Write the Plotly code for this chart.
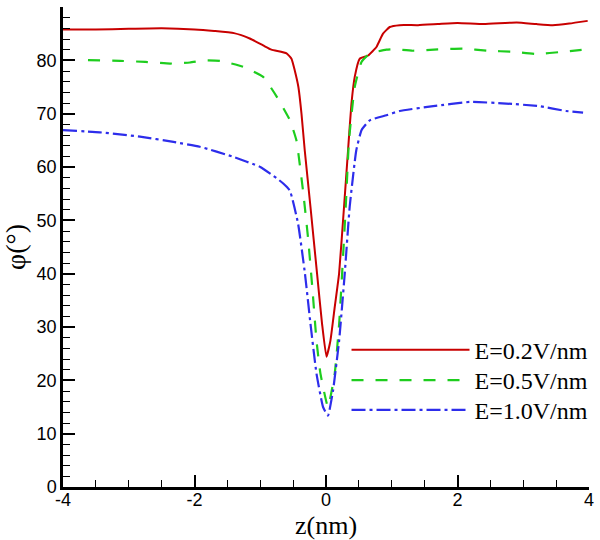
import plotly.graph_objects as go

# ---- data ----
red_x = [-4.0, -3.5, -3.0, -2.5, -2.0, -1.7, -1.4, -1.16, -0.956, -0.83, -0.6, -0.525,
         -0.475, -0.42, -0.373, -0.323, -0.236, -0.136, -0.06, 0.007, 0.068, 0.133, 0.199,
         0.274, 0.335, 0.387, 0.437, 0.513, 0.64, 0.767, 0.867, 0.97, 1.12, 1.4, 1.7, 2.0,
         2.4, 2.9, 3.2, 3.45, 3.7, 3.98]
red_y = [85.8, 85.8, 85.9, 86.0, 85.8, 85.5, 85.1, 84.1, 82.8, 82.0, 81.3, 80.3,
         78.1, 75.0, 70.0, 63.1, 52.5, 40.0, 30.6, 24.4, 27.5, 33.75, 40.0,
         52.5, 63.1, 71.9, 76.9, 80.3, 80.9, 82.5, 85.0, 86.25, 86.6, 86.6, 86.8, 87.0,
         86.8, 87.1, 86.8, 86.6, 86.9, 87.4]

green_x = [-3.62, -3.13, -2.75, -2.37, -2.07, -1.85, -1.61, -1.26, -0.956, -0.75, -0.55,
           -0.45, -0.35, -0.27, -0.205, -0.145, -0.085, 0.03, 0.133, 0.2, 0.245, 0.30,
           0.35, 0.437, 0.54, 0.665, 0.92, 1.02, 1.32, 1.70, 2.08, 2.46, 2.84, 3.2, 3.6, 3.96]
green_y = [80.05, 79.9, 79.7, 79.4, 79.6, 80.0, 79.9, 78.8, 76.9, 73.2, 68.8,
           65.0, 55.6, 46.3, 36.9, 27.5, 21.3, 15.0, 21.3, 30.6, 40.0, 52.5,
           65.0, 75.0, 79.7, 81.25, 82.0, 82.1, 81.8, 82.05, 82.2, 81.8, 81.6, 81.2, 81.6, 82.05]

blue_x = [-4.0, -3.44, -2.83, -2.32, -1.92, -1.41, -1.0, -0.75, -0.65, -0.55, -0.425,
          -0.32, -0.236, -0.145, -0.045, 0.03, 0.107, 0.2, 0.285, 0.36, 0.46, 0.54,
          0.665, 0.92, 1.12, 1.63, 2.19, 2.74, 3.25, 3.65, 3.91]
blue_y = [66.9, 66.5, 65.7, 64.7, 63.8, 61.9, 60.0, 57.9, 56.9, 55.6, 49.4,
          40.0, 30.6, 21.3, 15.0, 13.4, 18.1, 27.5, 40.0, 52.5, 63.1, 66.9,
          68.75, 69.7, 70.5, 71.4, 72.2, 71.9, 71.4, 70.5, 70.2]

series_names = ["E=0.2V/nm", "E=0.5V/nm", "E=1.0V/nm"]
x_tickvals = [-4, -2, 0, 2, 4]
x_ticktext = ["-4", "-2", "0", "2", "4"]
y_tickvals = [0, 10, 20, 30, 40, 50, 60, 70, 80, 90]

SERIF = "Liberation Serif, Times New Roman, serif"
SANS = "Liberation Sans, Arial, sans-serif"

fig = go.Figure()
fig.add_trace(go.Scatter(x=red_x, y=red_y, mode="lines", name=series_names[0], legend="legend",
                         line=dict(color="rgb(200,0,0)", width=2, shape="spline", smoothing=0.4)))
fig.add_trace(go.Scatter(x=green_x, y=green_y, mode="lines", name=series_names[1], legend="legend2",
                         line=dict(color="rgb(30,205,30)", width=2.2, dash="12px,12px",
                                   shape="spline", smoothing=0.4)))
fig.add_trace(go.Scatter(x=blue_x, y=blue_y, mode="lines", name=series_names[2], legend="legend3",
                         line=dict(color="rgb(45,45,235)", width=2.2, dash="14px,4px,3px,4px",
                                   shape="spline", smoothing=0.4)))

axis_common = dict(
    showline=True, linecolor="black", linewidth=2.5, showgrid=False, zeroline=False,
    ticks="inside", ticklen=12, tickwidth=2, tickcolor="black",
    tickfont=dict(family=SANS, size=18, color="black"),
)

fig.update_xaxes(
    range=[-4, 4], tickvals=x_tickvals, ticktext=x_ticktext, ticklabelstandoff=-5,
    minor=dict(ticks="inside", ticklen=7, tickwidth=1, tickcolor="black", dtick=0.5, showgrid=False),
    title=dict(text="z(nm)", font=dict(family=SERIF, size=26, color="black"), standoff=17),
    **axis_common,
)
fig.update_yaxes(
    range=[0, 90], tickvals=y_tickvals,
    minor=dict(ticks="inside", ticklen=7, tickwidth=1, tickcolor="black", dtick=2, showgrid=False),
    title=dict(text="φ(°)", font=dict(family=SERIF, size=28, color="black"), standoff=14),
    **axis_common,
)

leg_common = dict(xanchor="left", yanchor="middle", bgcolor="rgba(0,0,0,0)", borderwidth=0,
                  itemwidth=118, font=dict(family=SERIF, size=24, color="black"))
fig.update_layout(
    width=600, height=540,
    margin=dict(l=63, r=11, t=7, b=53, autoexpand=False),
    plot_bgcolor="white", paper_bgcolor="white",
    showlegend=True,
    legend=dict(x=0.539, y=0.285, **leg_common),
    legend2=dict(x=0.539, y=0.222, **leg_common),
    legend3=dict(x=0.539, y=0.160, **leg_common),
)

fig.write_html("out.html", config={"displayModeBar": False},
               post_script="document.body.style.margin='0px';")
